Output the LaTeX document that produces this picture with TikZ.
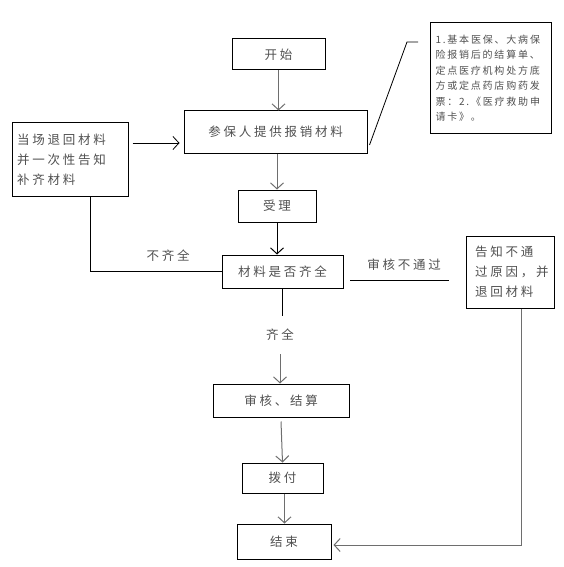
\documentclass[tikz,border=0pt]{standalone}
\usepackage{fontspec}
\newfontfamily\cjk[LetterSpace=22]{Noto Sans CJK SC}
\newfontfamily\cjknote[LetterSpace=18]{Noto Sans CJK SC}
\usetikzlibrary{arrows.meta,positioning,calc}
\definecolor{ink}{HTML}{505050}
\definecolor{wire}{HTML}{6E6E6E}
\tikzset{box/.style={draw=black,line width=1pt,inner sep=0pt,text=ink,font=\cjk\fontsize{12.5}{20}\selectfont},
  flow/.style={draw=wire,line width=1pt,-{Straight Barb[length=6pt,width=13pt]}},
  link/.style={draw=black,line width=.8pt},
  lbl/.style={text=ink,inner sep=1pt,font=\cjk\fontsize{12.5}{15}\selectfont}}

\begin{document}
\begin{tikzpicture}[x=1pt,y=-1pt]
\useasboundingbox (0,0) rectangle (564,567);
% main column
\node[box,minimum width=93,minimum height=31] (start) at (278.5,54.5) {开始};
\node[box,minimum width=183,minimum height=42] (submit) at (275.5,132) {参保人提供报销材料};
\node[box,minimum width=78,minimum height=32] (accept) at (277,206) {受理};
\node[box,minimum width=121,minimum height=33] (check) at (282.5,271.5) {材料是否齐全};
\node[lbl,inner ysep=13pt] (ok) at (280,335) {齐全};
\node[box,minimum width=136,minimum height=33] (audit) at (281,400.5) {审核、结算};
\node[box,minimum width=81,minimum height=30] (pay) at (282.5,478) {拨付};
\node[box,minimum width=94,minimum height=35] (finish) at (284,541.5) {结束};
% side boxes
\node[box,minimum width=116,minimum height=73,text width=106,align=left] (back) at (70,159.5) {当场退回材料\\并一次性告知\\补齐材料};
\node[box,minimum width=88,minimum height=72,text width=70,align=left] (fail) at (510,272) {告知不通\\过原因，并\\退回材料};
\node[box,minimum width=121,minimum height=111,text width=110,align=left,font=\cjknote\fontsize{10}{15.5}\selectfont] (note) at (490.5,78) {1.基本医保、大病保\\险报销后的结算单、\\定点医疗机构处方底\\方或定点药店购药发\\票：2.《医疗救助申\\请卡》。};
\node[lbl] (lack) at (168,256) {不齐全};
\node[lbl] (reject) at (404,265) {审核不通过};
\coordinate (nf1) at (350,280);
\coordinate (nf2) at (449,280);
\coordinate (n1) at (407,42);
\coordinate (n2) at (418,42);
% connectors
\draw[flow] (start.south) -- (start.south |- submit.north);
\draw[flow] (submit.south -| accept.north) -- (accept.north);
\draw[flow,draw=black] (accept.south) -- (accept.south |- check.north);
\draw[link] (check.south) -- (check.south |- ok.north);
\draw[flow] (ok.south) -- (ok.south |- audit.north);
\draw[flow] ([yshift=-4pt]audit.south) -- (pay.north);
\draw[flow] ([xshift=2pt]pay.south) -- ([xshift=2pt]pay.south |- finish.north);
\draw[link,-{Straight Barb[length=6pt,width=13pt]},shorten >=8pt] ([xshift=4pt,yshift=16.5pt]back.east) -- ([xshift=4pt,yshift=16.5pt]back.east -| submit.west);
\draw[link] ([xshift=20pt]back.south) |- (check.west);
\draw[link] (nf1) -- (nf2);
\draw[flow] ([xshift=11pt]fail.south) |- ([xshift=2pt,yshift=-3.5pt]finish.east);
\draw[link] ([xshift=2pt,yshift=-13pt]submit.east) -- (n1) -- (n2);
\end{tikzpicture}
\end{document}
